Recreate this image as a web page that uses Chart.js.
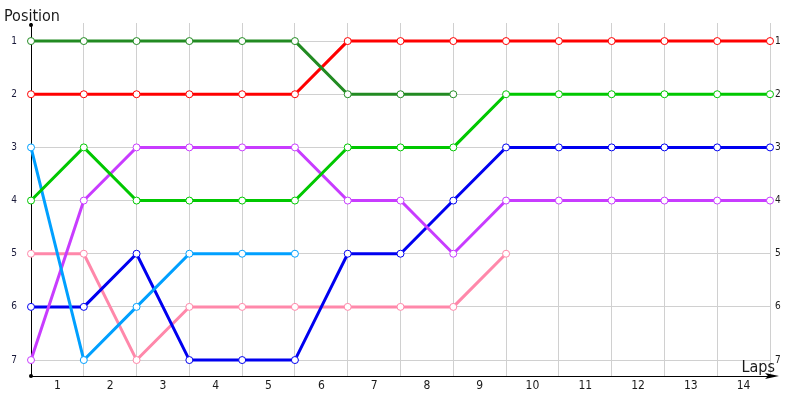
<!DOCTYPE html>
<html>
<head>
<meta charset="utf-8">
<script src="https://cdn.jsdelivr.net/npm/chart.js@4/dist/chart.umd.min.js"></script>
<style>
html,body{margin:0;padding:0;background:#fff;}
#wrap{width:800px;height:400px;}
</style>
</head>
<body>
<div id="wrap"><canvas id="c" width="800" height="400"></canvas></div>
<script>
// Lap indices (0 = start) and tick labels
const lapPoints = [0,1,2,3,4,5,6,7,8,9,10,11,12,13,14];
const lapLabels = ['1','2','3','4','5','6','7','8','9','10','11','12','13','14'];
const positionLabels = ['1','2','3','4','5','6','7'];

// Position per lap for each driver
const darkGreen = [1,1,1,1,1,1,2,2,2];
const red       = [2,2,2,2,2,2,1,1,1,1,1,1,1,1,1];
const green     = [4,3,4,4,4,4,3,3,3,2,2,2,2,2,2];
const lightBlue = [3,7,6,5,5,5];
const purple    = [7,4,3,3,3,3,4,4,5,4,4,4,4,4,4];
const blue      = [6,6,5,7,7,7,5,5,4,3,3,3,3,3,3];
const pink      = [5,5,7,6,6,6,6,6,6,5];

const FONT = "'DejaVu Sans Condensed','DejaVu Sans',sans-serif";

function ds(name, arr, color){
  return {
    label: name,
    data: arr.map((v,i)=>({x: lapPoints[i], y: v})),
    borderColor: color,
    backgroundColor: '#ffffff',
    pointBackgroundColor: '#ffffff',
    pointBorderColor: color,
    pointBorderWidth: 1,
    pointRadius: 3.5,
    borderWidth: 3,
    tension: 0,
    fill: false,
    clip: false
  };
}

const decor = {
  id: 'decor',
  beforeDatasetsDraw(chart){
    const ctx = chart.ctx;
    const a = chart.chartArea;
    ctx.save();
    ctx.fillStyle = '#000';
    ctx.strokeStyle = '#000';
    ctx.lineWidth = 1;
    ctx.beginPath(); ctx.moveTo(a.left, a.top); ctx.lineTo(a.left, 25); ctx.stroke();
    ctx.beginPath(); ctx.arc(a.left, 25, 2, 0, Math.PI*2); ctx.fill();
    ctx.beginPath(); ctx.arc(a.left, a.bottom, 2, 0, Math.PI*2); ctx.fill();
    ctx.beginPath(); ctx.moveTo(a.right, a.bottom); ctx.lineTo(768, a.bottom); ctx.stroke();
    ctx.beginPath();
    ctx.moveTo(779, a.bottom);
    ctx.lineTo(765, a.bottom-3);
    ctx.lineTo(768, a.bottom);
    ctx.lineTo(765, a.bottom+3);
    ctx.closePath(); ctx.fill();
    ctx.restore();
  },
  afterDraw(chart){
    const ctx = chart.ctx;
    ctx.save();
    ctx.fillStyle = '#1a1a1a';
    ctx.font = "16px " + FONT;
    ctx.textBaseline = 'alphabetic';
    ctx.textAlign = 'left';
    ctx.fillText('Position', 4, 21);
    ctx.textAlign = 'right';
    ctx.fillText('Laps', 775, 372);
    ctx.restore();
  }
};

new Chart(document.getElementById('c'), {
  type: 'line',
  data: {
    datasets: [
      ds('Driver A', darkGreen, '#228b22'),
      ds('Driver B', red, '#ff0000'),
      ds('Driver C', green, '#00c800'),
      ds('Driver D', lightBlue, '#00a0ff'),
      ds('Driver E', purple, '#c83cff'),
      ds('Driver F', blue, '#0000f0'),
      ds('Driver G', pink, '#ff88aa')
    ]
  },
  options: {
    responsive: false,
    animation: false,
    devicePixelRatio: 1,
    layout: { padding: { top: 23, left: 0, right: 0, bottom: 0 } },
    plugins: { legend: { display: false }, tooltip: { enabled: false } },
    scales: {
      x: {
        type: 'linear',
        min: 0, max: 14,
        afterBuildTicks(scale){
          const t = [];
          for (let i = 0; i <= 28; i++) t.push({value: i/2});
          scale.ticks = t;
        },
        afterFit(scale){ scale.height = 24; },
        ticks: {
          autoSkip: false,
          maxRotation: 0,
          padding: 3,
          color: '#1a1a1a',
          font: { family: FONT, size: 12 },
          callback: (v) => Number.isInteger(v) ? '' : lapLabels[Math.floor(v)]
        },
        grid: {
          drawTicks: false,
          color: (c) => (c.tick && Number.isInteger(c.tick.value) && c.tick.value > 0) ? '#d0d0d0' : 'rgba(0,0,0,0)',
          lineWidth: 1
        },
        border: { display: true, color: '#000', width: 1 }
      },
      y: {
        type: 'linear',
        reverse: true,
        min: 0.66, max: 7.3,
        position: 'left',
        afterBuildTicks(scale){
          scale.ticks = positionLabels.map((_, i) => ({value: i+1}));
        },
        afterFit(scale){ scale.width = 31; },
        ticks: {
          padding: 14,
          color: '#1a1a3a',
          font: { family: FONT, size: 10 },
          callback: (v) => positionLabels[v-1]
        },
        grid: { drawTicks: false, color: '#d0d0d0', lineWidth: 1 },
        border: { display: true, color: '#000', width: 1 }
      },
      y2: {
        type: 'linear',
        reverse: true,
        min: 0.66, max: 7.3,
        position: 'right',
        afterBuildTicks(scale){
          scale.ticks = positionLabels.map((_, i) => ({value: i+1}));
        },
        afterFit(scale){ scale.width = 30; },
        ticks: {
          padding: 5,
          color: '#1a1a1a',
          font: { family: FONT, size: 10 },
          callback: (v) => positionLabels[v-1]
        },
        grid: { display: false, drawTicks: false },
        border: { display: false }
      }
    }
  },
  plugins: [decor]
});
</script>
</body>
</html>
